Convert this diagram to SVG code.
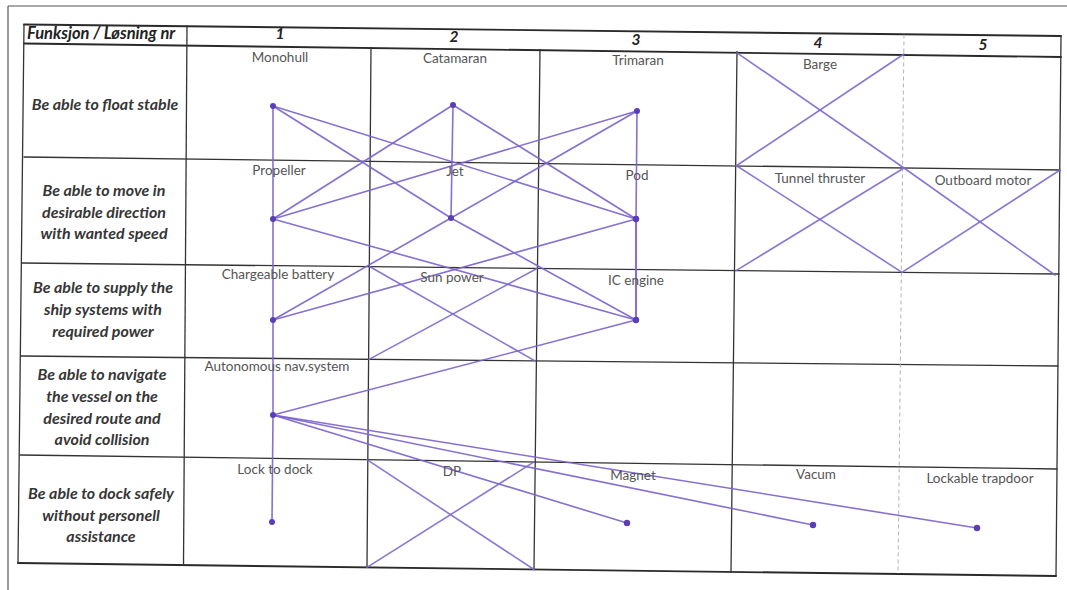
<svg xmlns="http://www.w3.org/2000/svg" width="1067" height="590" viewBox="0 0 1067 590">
<style>
  .frame{stroke:#555;stroke-width:1.2;fill:none}
  .grid{stroke:#333;stroke-width:1.3;fill:none;stroke-linecap:round}
  .heavy{stroke:#2a2a2a;stroke-width:1.9}
  .dash{stroke:#aaa;stroke-width:0.9;stroke-dasharray:4 3;fill:none}
  .fn{font-family:Lato,"Liberation Sans",Arial,sans-serif;font-weight:bold;font-style:italic;font-size:16px;fill:#363636;text-anchor:middle}
  .hd{font-family:Lato,"Liberation Sans",Arial,sans-serif;font-weight:bold;font-style:italic;font-size:16.5px;fill:#222}
  .num{font-family:Lato,"Liberation Sans",Arial,sans-serif;font-weight:bold;font-style:italic;font-size:15.5px;fill:#222;text-anchor:middle}
  .lbl{font-family:Lato,"Liberation Sans",Arial,sans-serif;font-size:13.5px;fill:#555;text-anchor:middle}
  .con{stroke:#7d64cc;stroke-width:1.6;fill:none;stroke-linecap:round;opacity:0.92}
  .x{stroke:#8067cf;stroke-width:1.6;fill:none;stroke-linecap:round;opacity:0.9}
  .dot{fill:#5b3db5}
</style>
<rect width="1067" height="590" fill="#ffffff"/>
<g id="frame">
  <line class="frame" x1="8" y1="6" x2="1067" y2="6"/>
  <line class="frame" x1="8" y1="6" x2="8" y2="590"/>
</g>
<g id="grid">
  <line class="grid heavy" x1="24" y1="24.5" x2="1061" y2="36"/>
  <line class="grid heavy" x1="24" y1="43.5" x2="1061" y2="57"/>
  <line class="grid" x1="24" y1="157" x2="1060" y2="170"/>
  <line class="grid" x1="22" y1="263" x2="1059" y2="274"/>
  <line class="grid" x1="21" y1="356" x2="1058" y2="366"/>
  <line class="grid" x1="20" y1="455" x2="1057" y2="469"/>
  <line class="grid heavy" x1="18" y1="563" x2="1056" y2="576"/>
  <line class="grid" x1="24" y1="24.5" x2="18" y2="563"/>
  <line class="grid" x1="187" y1="26" x2="183.5" y2="565"/>
  <line class="grid" x1="371" y1="47.5" x2="367" y2="567"/>
  <line class="grid" x1="540" y1="49.5" x2="534" y2="569"/>
  <line class="grid" x1="737" y1="51.5" x2="731" y2="572"/>
  <line class="dash" x1="904" y1="34.5" x2="898" y2="574"/>
  <line class="grid" x1="1061" y1="36" x2="1056" y2="576"/>
</g>
<g id="header">
  <text class="hd" x="27" y="39">Funksjon / Løsning nr</text>
  <text class="num" x="280" y="39">1</text>
  <text class="num" x="454" y="42">2</text>
  <text class="num" x="636" y="45">3</text>
  <text class="num" x="818" y="48">4</text>
  <text class="num" x="983" y="50">5</text>
</g>
<g id="functions">
  <text class="fn" x="105" y="110">Be able to float stable</text>
  <text class="fn" x="104" y="196">Be able to move in</text>
  <text class="fn" x="104" y="218">desirable direction</text>
  <text class="fn" x="104" y="239">with wanted speed</text>
  <text class="fn" x="103" y="293">Be able to supply the</text>
  <text class="fn" x="103" y="315">ship systems with</text>
  <text class="fn" x="103" y="337">required power</text>
  <text class="fn" x="102" y="380">Be able to navigate</text>
  <text class="fn" x="102" y="402">the vessel on the</text>
  <text class="fn" x="102" y="424">desired route and</text>
  <text class="fn" x="102" y="445">avoid collision</text>
  <text class="fn" x="101" y="499">Be able to dock safely</text>
  <text class="fn" x="101" y="521">without personell</text>
  <text class="fn" x="101" y="542">assistance</text>
</g>
<g id="crossouts">
  <line class="x" x1="737" y1="52.8" x2="904" y2="168"/>
  <line class="x" x1="904" y1="54" x2="736" y2="166"/>
  <line class="x" x1="737" y1="166" x2="902" y2="272.3"/>
  <line class="x" x1="904" y1="168" x2="736" y2="270.6"/>
  <line class="x" x1="904" y1="168" x2="1055" y2="275"/>
  <line class="x" x1="1060" y1="170" x2="902" y2="272.3"/>
  <line class="x" x1="370" y1="266.7" x2="535" y2="360.9"/>
  <line class="x" x1="369" y1="359.4" x2="537" y2="268.5"/>
  <line class="x" x1="367" y1="459.7" x2="534" y2="569.5"/>
  <line class="x" x1="367" y1="567.4" x2="534" y2="461.9"/>
</g>
<g id="connectors">
  <line class="con" x1="273" y1="106" x2="273" y2="219"/>
  <line class="con" x1="273" y1="219" x2="273" y2="320"/>
  <line class="con" x1="273" y1="320" x2="273" y2="415"/>
  <line class="con" x1="273" y1="415" x2="272" y2="522"/>
  <line class="con" x1="273" y1="106" x2="451" y2="218"/>
  <line class="con" x1="273" y1="106" x2="636" y2="219"/>
  <line class="con" x1="453" y1="105" x2="273" y2="219"/>
  <line class="con" x1="453" y1="105" x2="451" y2="218"/>
  <line class="con" x1="453" y1="105" x2="636" y2="219"/>
  <line class="con" x1="637" y1="111" x2="273" y2="219"/>
  <line class="con" x1="637" y1="111" x2="451" y2="218"/>
  <line class="con" x1="637" y1="111" x2="636" y2="219"/>
  <line class="con" x1="636" y1="219" x2="636" y2="320" style="stroke-width:2.1"/>
  <line class="con" x1="273" y1="219" x2="636" y2="320"/>
  <line class="con" x1="451" y1="218" x2="273" y2="320"/>
  <line class="con" x1="451" y1="218" x2="636" y2="320"/>
  <line class="con" x1="636" y1="219" x2="273" y2="320"/>
  <line class="con" x1="636" y1="320" x2="273" y2="415"/>
  <line class="con" x1="273" y1="415" x2="627" y2="523"/>
  <line class="con" x1="273" y1="415" x2="813" y2="525"/>
  <line class="con" x1="273" y1="415" x2="977" y2="528"/>
</g>
<g id="monohull"><text class="lbl" x="280" y="62">Monohull</text><circle class="dot" cx="273" cy="106" r="3"/></g>
<g id="catamaran"><text class="lbl" x="455" y="63">Catamaran</text><circle class="dot" cx="453" cy="105" r="3"/></g>
<g id="trimaran"><text class="lbl" x="638" y="65">Trimaran</text><circle class="dot" cx="637" cy="111" r="3"/></g>
<g id="barge"><text class="lbl" x="820" y="69">Barge</text></g>
<g id="propeller"><text class="lbl" x="279" y="175">Propeller</text><circle class="dot" cx="273" cy="219" r="3"/></g>
<g id="jet"><text class="lbl" x="455" y="176">Jet</text><circle class="dot" cx="451" cy="218" r="3"/></g>
<g id="pod"><text class="lbl" x="637" y="180">Pod</text><circle class="dot" cx="636" cy="219" r="3.2"/></g>
<g id="tunnel-thruster"><text class="lbl" x="820" y="183">Tunnel thruster</text></g>
<g id="outboard-motor"><text class="lbl" x="983" y="185">Outboard motor</text></g>
<g id="chargeable-battery"><text class="lbl" x="278" y="279">Chargeable battery</text><circle class="dot" cx="273" cy="320" r="3"/></g>
<g id="sun-power"><text class="lbl" x="452" y="282">Sun power</text></g>
<g id="ic-engine"><text class="lbl" x="636" y="285">IC engine</text><circle class="dot" cx="636" cy="320" r="3.2"/></g>
<g id="autonomous-nav"><text class="lbl" x="277" y="371">Autonomous nav.system</text><circle class="dot" cx="273" cy="415" r="3"/></g>
<g id="lock-to-dock"><text class="lbl" x="275" y="474">Lock to dock</text><circle class="dot" cx="272" cy="522" r="3"/></g>
<g id="dp"><text class="lbl" x="452" y="476">DP</text></g>
<g id="magnet"><text class="lbl" x="633" y="480">Magnet</text><circle class="dot" cx="627" cy="523" r="3.2"/></g>
<g id="vacum"><text class="lbl" x="816" y="479">Vacum</text><circle class="dot" cx="813" cy="525" r="3.2"/></g>
<g id="lockable-trapdoor"><text class="lbl" x="980" y="483">Lockable trapdoor</text><circle class="dot" cx="977" cy="528" r="3.2"/></g>
</svg>
